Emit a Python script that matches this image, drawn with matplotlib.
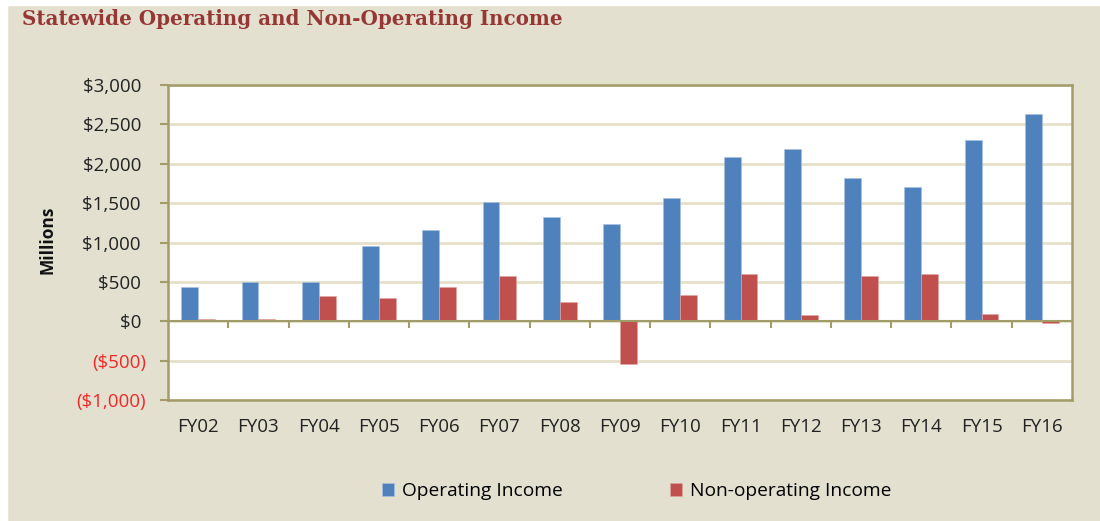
import numpy as np
import matplotlib.pyplot as plt
from matplotlib.patches import Rectangle

years = ['FY02', 'FY03', 'FY04', 'FY05', 'FY06', 'FY07', 'FY08', 'FY09',
         'FY10', 'FY11', 'FY12', 'FY13', 'FY14', 'FY15', 'FY16']
operating = [440, 500, 500, 960, 1160, 1510, 1320, 1230,
             1570, 2080, 2190, 1820, 1710, 2300, 2630]
non_operating = [30, 25, 320, 300, 430, 575, 245, -540,
                 335, 600, 80, 575, 600, 90, -20]
y_ticks = [-1000, -500, 0, 500, 1000, 1500, 2000, 2500, 3000]

BG = '#E4E0D0'
OLIVE = '#A29C68'
GRID = '#E6E0C9'
plt.rcParams['font.family'] = ['Open Sans', 'DejaVu Sans']

fig = plt.figure(figsize=(11, 5.21), dpi=100, facecolor=BG)
# white margins at top/left of the scanned page
fig.patches.append(Rectangle((0, 1 - 5 / 521), 1, 5 / 521, transform=fig.transFigure,
                             color='white', zorder=0))
fig.patches.append(Rectangle((0, 0), 7 / 1100, 1, transform=fig.transFigure,
                             color='white', zorder=0))

ax = fig.add_axes([168 / 1100, 1 - 400 / 521, (1072 - 168) / 1100, (400 - 85) / 521])
ax.set_facecolor('white')

x = np.arange(len(years))
w = 0.28
ax.bar(x - w / 2, operating, w, color='#4F81BD', edgecolor='#A9C2E2', linewidth=0.4,
       label='Operating Income', zorder=3)
ax.bar(x + w / 2, non_operating, w, color='#C0504D', edgecolor='#E3A6A4', linewidth=0.4,
       label='Non-operating Income', zorder=3)

ax.set_xlim(-0.5, len(years) - 0.5)
ax.set_ylim(-1000, 3000)

# y axis
ax.set_yticks(y_ticks)
lbls = []
for v in y_ticks:
    if v < 0:
        lbls.append('(${:,})'.format(-v))
    else:
        lbls.append('${:,} '.format(v))
ax.set_yticklabels(lbls)
for t, v in zip(ax.get_yticklabels(), y_ticks):
    t.set_color('#F02828' if v < 0 else '#222222')
ax.tick_params(axis='y', direction='out', length=6, width=1.5, color=OLIVE,
               pad=10, labelsize=13.5)
ax.grid(axis='y', color=GRID, linewidth=2, zorder=0)

# x axis: labels below the frame, ticks hang from the zero line
ax.set_xticks(x)
ax.set_xticklabels(years)
ax.tick_params(axis='x', length=0, pad=13, labelsize=13.5, labelcolor='#222222')
ax.axhline(0, color=OLIVE, linewidth=1.5, zorder=4)
ax.vlines(np.arange(1, len(years)) - 0.5, -85, 0, color=OLIVE, linewidth=1.5, zorder=4)

for s in ax.spines.values():
    s.set_color(OLIVE)
    s.set_linewidth(1.8)

fig.text(0.043, 0.54, 'Millions', rotation=90, ha='center', va='center',
         fontsize=12.5, fontweight='bold', color='#111111')

fig.text(22 / 1100, 1 - 19 / 521, 'Statewide Operating and Non-Operating Income',
         ha='left', va='center', fontsize=14.3, fontweight='bold',
         family='DejaVu Serif', color='#953735')

fig.legend(loc='center', bbox_to_anchor=(0.579, 0.057), ncol=2, frameon=False,
           fontsize=13.8, handlelength=0.6, handleheight=0.7, handletextpad=0.45,
           columnspacing=5.6)

fig.savefig('out.png', dpi=100, facecolor=BG)
